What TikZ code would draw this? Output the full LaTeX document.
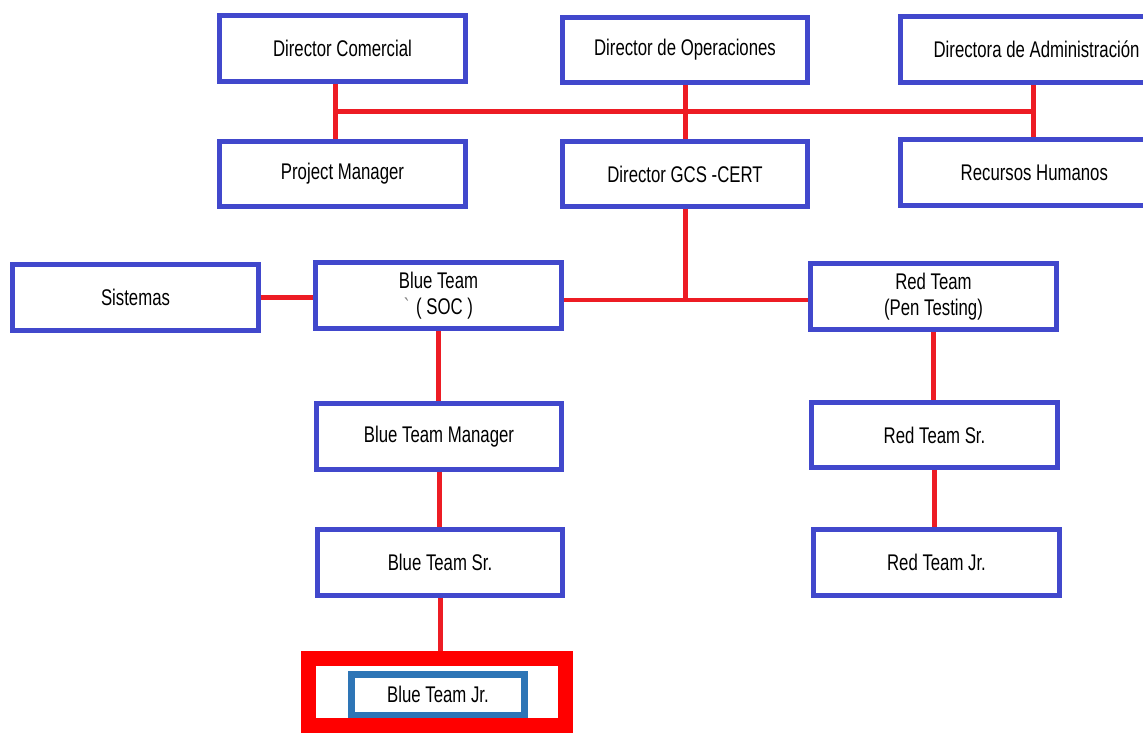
\documentclass[tikz,border=0pt]{standalone}
\usepackage{fontspec}
\setmainfont{Liberation Sans}[FakeStretch=0.74]
\usetikzlibrary{positioning}
\definecolor{boxblue}{RGB}{65,72,204}
\definecolor{linkred}{RGB}{237,28,36}
\definecolor{hired}{RGB}{255,0,0}
\definecolor{steelblue}{RGB}{46,117,182}

\begin{document}
\begin{tikzpicture}[x=0.02cm,y=-0.02cm,every node/.style={align=center,font=\fontsize{12.9}{14.5}\selectfont},
unit/.style={draw=boxblue,line width=0.1cm,fill=white,minimum width=4.92cm,minimum height=1.32cm,inner sep=0pt},
link/.style={draw=linkred,line width=0.1cm}]
\useasboundingbox (0,0) rectangle (1143,733);
\node[unit] (dcom) at (342.5,48.5) {Director Comercial};
\node[unit] (dops) at (685,50) {Director de Operaciones};
\node[unit] (dadm) at (1023,49.5) {\hspace*{1.2em}Directora de Administración};
\node[unit] (pm) at (342.5,174) {Project Manager};
\node[unit] (gcs) at (685,174) {Director GCS -CERT};
\node[unit] (rrhh) at (1023,172.5) {\hspace*{1em}Recursos Humanos};
\node[unit] (sis) at (135.5,297.5) {Sistemas};
\node[unit] (soc) at (438.5,295.5) {Blue Team\\{\color{gray}\textasciigrave}\ ( SOC )};
\node[unit] (pent) at (933.5,296.5) {Red Team\\(Pen Testing)};
\node[unit] (btm) at (439,436.5) {Blue Team Manager};
\node[unit] (rts) at (934.5,435) {Red Team Sr.};
\node[unit] (bts) at (440,562.5) {Blue Team Sr.};
\node[unit] (rtj) at (936.5,562.5) {Red Team Jr.};
\node[draw=hired,line width=0.3cm,minimum width=5.14cm,minimum height=1.34cm,inner sep=0pt] (focus) at (437,692) {};
\node[draw=steelblue,line width=0.13cm,minimum width=3.47cm,minimum height=0.81cm,inner sep=0pt] (btj) at (438,694.5) {Blue Team Jr.};
\coordinate (busl) at (335,112);
\coordinate (busr) at (1033,112);
\coordinate (tee) at (686,300);
\draw[link] (busl) -- (busr);
\draw[link] (dcom.south -| busl) -- (pm.north -| busl);
\draw[link] (dops.south) -- (gcs.north);
\draw[link] (dadm.south -| busr) -- (rrhh.north -| busr);
\draw[link] (gcs.south) -- (gcs.south |- tee);
\draw[link] (soc.east |- tee) -- (pent.west |- tee);
\draw[link] (sis.east) -- (sis.east -| soc.west);
\draw[link] (soc.south) -- (soc.south |- btm.north);
\draw[link] (btm.south) -- (btm.south |- bts.north);
\draw[link] (bts.south) -- (bts.south |- focus.north);
\draw[link] (pent.south) -- (pent.south |- rts.north);
\draw[link] (rts.south) -- (rts.south |- rtj.north);
\end{tikzpicture}
\end{document}
